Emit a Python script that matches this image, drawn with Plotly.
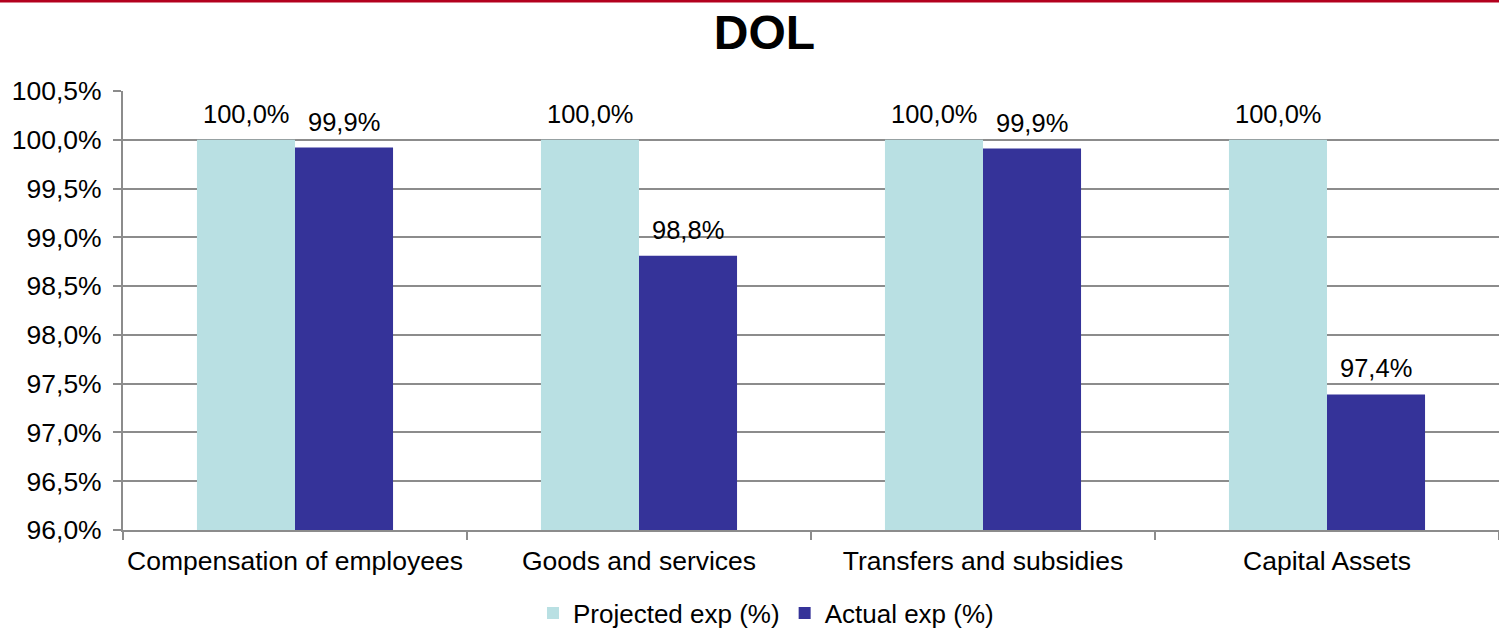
import plotly.graph_objects as go

categories = ["Compensation of employees", "Goods and services", "Transfers and subsidies", "Capital Assets"]
projected = [100.0, 100.0, 100.0, 100.0]
actual = [99.92, 98.81, 99.91, 97.39]
series_names = ["Projected exp (%)", "Actual exp (%)"]

FONT = "Liberation Sans, Arial, sans-serif"
GRID = "#8c8c8c"
COLORS = ["#b9e0e3", "#353399"]

fig = go.Figure()
for name, vals, col in zip(series_names, [projected, actual], COLORS):
    fig.add_trace(go.Bar(x=categories, y=vals, name=name,
                         marker=dict(color=col, line=dict(width=0))))

# data labels as annotations placed through the axes
for shift, vals in zip([-49, 49], [projected, actual]):
    for c, v in zip(categories, vals):
        fig.add_annotation(x=c, y=v, xref="x", yref="y", text=f"{v:.1f}%".replace(".", ","),
                           showarrow=False, xshift=shift, yshift=26, yanchor="middle",
                           font=dict(size=25.5, family=FONT, color="#000000"))

fig.update_layout(
    width=1499, height=628,
    margin=dict(l=123, r=0, t=91, b=98, autoexpand=False),
    paper_bgcolor="white", plot_bgcolor="white",
    separators=",.",
    barmode="group", bargap=0.43, bargroupgap=0,
    font=dict(family=FONT, size=26, color="#000000"),
    title=dict(text="<b>DOL</b>", x=0.510, xref="container", xanchor="center",
               y=1 - 32 / 628, yref="container", yanchor="middle",
               font=dict(size=48, family=FONT, color="#000000")),
    legend=dict(orientation="h", xref="container", yref="container",
                x=0.511, xanchor="center", y=15 / 628, yanchor="middle",
                font=dict(size=26, family=FONT), traceorder="normal",
                itemwidth=30),
    showlegend=True,
)
fig.update_yaxes(range=[96, 100.5], dtick=0.5, tickformat=".1f", ticksuffix="%",
                 showgrid=True, gridcolor=GRID, gridwidth=2,
                 showline=True, linecolor=GRID, linewidth=2,
                 ticks="outside", ticklen=8, tickcolor=GRID, tickwidth=2,
                 ticklabelstandoff=6,
                 tickfont=dict(size=26.5, family=FONT), zeroline=False, automargin=False)
fig.update_xaxes(showline=True, linecolor=GRID, linewidth=2,
                 ticks="outside", ticklen=8, tickcolor=GRID, tickwidth=2, tickangle=0,
                 ticklabelstandoff=6,
                 tickson="boundaries", tickfont=dict(size=26.5, family=FONT), automargin=False)

fig.add_shape(type="line", xref="paper", yref="paper",
              x0=-0.1, x1=1.0, y0=1 + 90 / 439, y1=1 + 90 / 439,
              line=dict(color="#b3001e", width=3))

fig.write_html("out.html", config={"displayModeBar": False},
               post_script="document.body.style.margin='0';")
